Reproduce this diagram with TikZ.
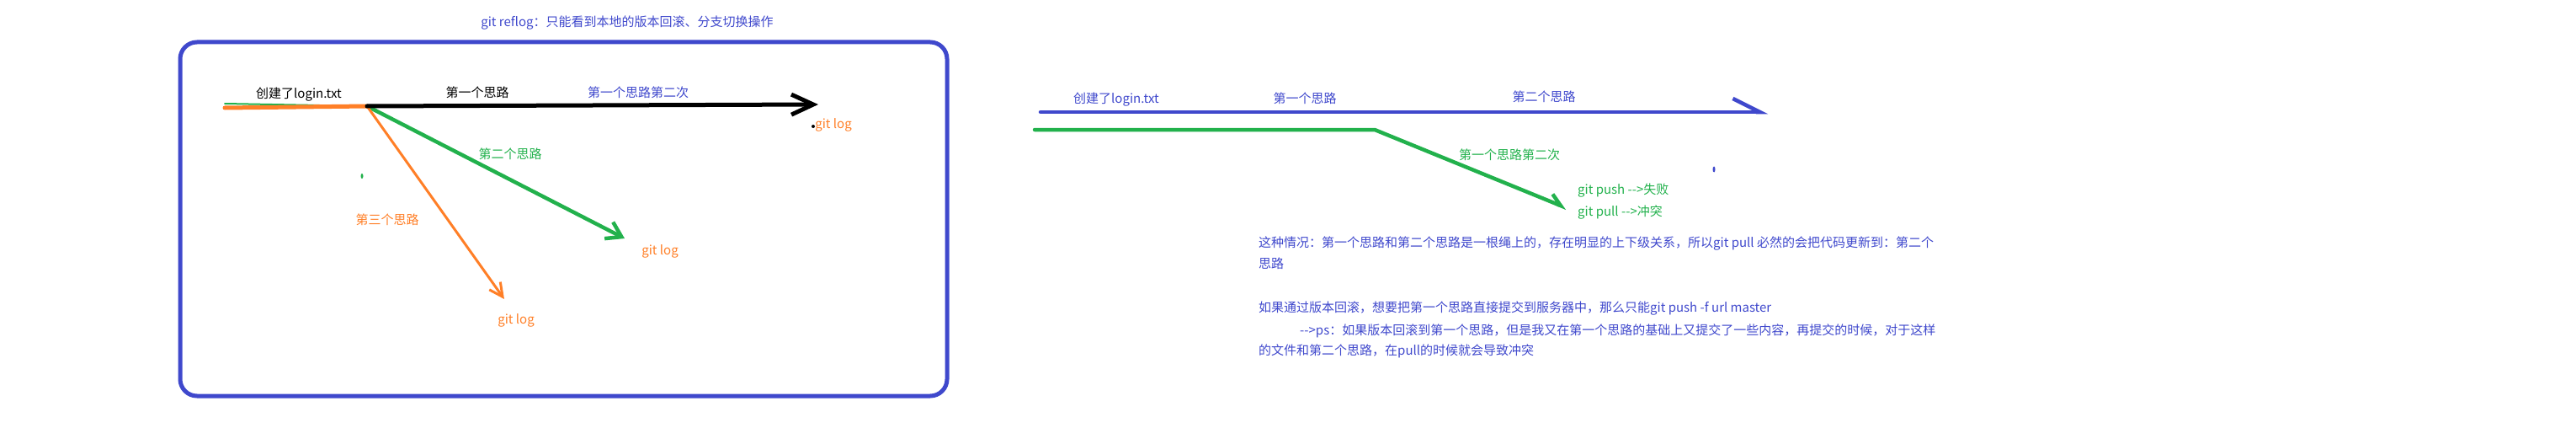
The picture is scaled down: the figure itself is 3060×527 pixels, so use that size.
\documentclass[tikz,border=0pt]{standalone}
\usepackage{fontspec}
\setmainfont{Noto Sans CJK SC}
\usetikzlibrary{arrows.meta,positioning}
\definecolor{paintblue}{RGB}{63,72,204}
\definecolor{paintorange}{RGB}{255,127,39}
\definecolor{paintgreen}{RGB}{34,177,76}
\tikzset{
    % Text labels (one pixel = one point)
    lbl/.style={font=\fontsize{15}{18}\selectfont, inner sep=0pt},
    bluelbl/.style={lbl, text=paintblue},
    greenlbl/.style={lbl, text=paintgreen},
    orangelbl/.style={lbl, text=paintorange},
    blacklbl/.style={lbl, text=black},
    notelbl/.style={bluelbl, anchor=west},
    % Branch strokes
    blackline/.style={line width=5pt, black, line cap=round},
    greenline/.style={line width=4.5pt, paintgreen, line cap=round, line join=round},
    orangeline/.style={line width=4pt, paintorange, line cap=round, line join=round},
    blueline/.style={line width=4.5pt, paintblue, line cap=round},
    % Outer frame
    frame/.style={draw=paintblue, line width=5pt, rounded corners=20pt}
}
\begin{document}
\begin{tikzpicture}[x=1pt,y=-1pt]
  \useasboundingbox (0,0) rectangle (3060,527);

  % left panel: git reflog
  \node[bluelbl] (title) at (745,27) {git reflog：只能看到本地的版本回滚、分支切换操作};
  \draw[frame] (214,50) rectangle (1125,470);

  \coordinate (lstartG) at (267,123);
  \coordinate (lstartO) at (267,128);
  \coordinate (lfork)   at (436,126);
  \coordinate (ltipB)   at (972,124);
  \coordinate (ltipG)   at (742,283);
  \coordinate (ltipO)   at (599,355);

  \draw[greenline,line width=2pt] (lstartG) -- (lfork);
  \draw[greenline,-{Straight Barb[length=17pt,width=22pt]}] (lfork) -- (ltipG);
  \draw[orangeline,line width=5pt] (lstartO) -- (lfork);
  \draw[orangeline,line width=3pt,-{Straight Barb[length=16pt,width=16pt]}] (lfork) -- (ltipO);
  \draw[blackline,-{Straight Barb[length=26pt,width=24pt]}] (lfork) -- (ltipB);

  \node[blacklbl]  (lcreate) at (355,112) {创建了login.txt};
  \node[blacklbl]  (lfirst)  at (567,110) {第一个思路};
  \node[bluelbl]   (lfirst2) at (758,110) {第一个思路第二次};
  \node[orangelbl] (llogB)   at (990,148) {git log};
  \node[greenlbl]  (lsecond) at (606,183) {第二个思路};
  \node[orangelbl] (llogG)   at (784,298) {git log};
  \node[orangelbl] (lthird)  at (460,261) {第三个思路};
  \node[orangelbl] (llogO)   at (613,380) {git log};
  % stray pen marks
  \fill (966,150) circle (2);
  \fill[paintgreen] (430,209) ellipse (1.5 and 3);

  % right panel: push / pull
  \coordinate (rblueS)  at (1236,133);
  \coordinate (rblueE)  at (2100,133);
  \coordinate (rgreenS) at (1229,154);
  \coordinate (rgreenK) at (1633,154);
  \coordinate (rgreenE) at (1861,247);

  \draw[blueline,-{Straight Barb[left,length=32pt,width=32pt]}] (rblueS) -- (rblueE);
  \draw[greenline,-{Straight Barb[left,length=14pt,width=18pt]}] (rgreenS) -- (rgreenK) -- (rgreenE);

  \node[bluelbl]  (rcreate) at (1326,118) {创建了login.txt};
  \node[bluelbl]  (rfirst)  at (1550,117) {第一个思路};
  \node[bluelbl]  (rsecond) at (1834,115) {第二个思路};
  \node[greenlbl] (rfirst2) at (1793,184) {第一个思路第二次};
  \node[greenlbl,anchor=west] (rpush) at (1874,226) {git push -{}->失败};
  \node[greenlbl,anchor=west] (rpull) at (1874,252) {git pull -{}->冲突};
  \fill[paintblue] (2036,201) ellipse (1.5 and 3.5);

  % explanation
  \node[notelbl] (noteA) at (1495,289) {这种情况：第一个思路和第二个思路是一根绳上的，存在明显的上下级关系，所以git pull 必然的会把代码更新到：第二个};
  \node[notelbl] (noteB) at (1495,313) {思路};
  \node[notelbl] (noteC) at (1495,366) {如果通过版本回滚，想要把第一个思路直接提交到服务器中，那么只能git push -f url master};
  \node[notelbl] (noteD) at (1544,393) {-{}->ps：如果版本回滚到第一个思路，但是我又在第一个思路的基础上又提交了一些内容，再提交的时候，对于这样};
  \node[notelbl] (noteE) at (1495,417) {的文件和第二个思路，在pull的时候就会导致冲突};
\end{tikzpicture}
\end{document}
